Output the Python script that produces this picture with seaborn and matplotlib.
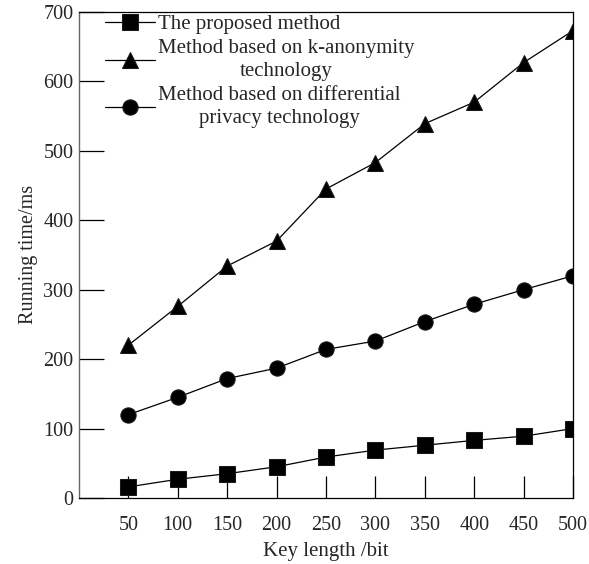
"""
Running time vs key length for three privacy-preserving methods
"""

import pandas as pd
import matplotlib
matplotlib.use('Agg')
import matplotlib.pyplot as plt
import seaborn as sns

# Data
key_length = [50, 100, 150, 200, 250, 300, 350, 400, 450, 500]
proposed = [16, 27, 35, 45, 59, 69, 76, 83, 89, 100]
k_anonymity = [220, 276, 334, 370, 445, 483, 539, 570, 627, 673]
differential = [120, 145, 172, 187, 214, 226, 254, 279, 300, 320]

method_names = [
    'The proposed method',
    'Method based on k-anonymity\ntechnology',
    'Method based on differential\nprivacy technology',
]
x_ticks = [50, 100, 150, 200, 250, 300, 350, 400, 450, 500]
y_ticks = [0, 100, 200, 300, 400, 500, 600, 700]

# Build a long-form table for seaborn
frames = []
for name, values in zip(method_names, [proposed, k_anonymity, differential]):
    frames.append(pd.DataFrame({'key': key_length, 'time': values, 'method': name}))
df = pd.concat(frames, ignore_index=True)

sns.set_style('ticks')
plt.rcParams['font.family'] = ['Liberation Serif', 'DejaVu Serif']

fig = plt.figure(figsize=(5.89, 5.64), dpi=100)
ax = fig.add_axes([0.134, 0.117, 0.839, 0.862])

markers = {method_names[0]: 's', method_names[1]: '^', method_names[2]: 'o'}
palette = {name: 'black' for name in method_names}

sns.lineplot(
    data=df, x='key', y='time', hue='method', style='method',
    markers=markers, dashes=False, palette=palette,
    markersize=11, linewidth=0.9, markeredgecolor='#1a1a1a',
    ax=ax, legend='full'
)

ax.set_xlim(0, 500)
ax.set_ylim(0, 700)
ax.set_xticks(x_ticks)
ax.set_yticks(y_ticks)

ax.tick_params(axis='x', direction='in', length=16, width=0.9, pad=13,
               labelsize=14.5, color='black')
ax.tick_params(axis='y', direction='in', length=18, width=0.9, pad=4,
               labelsize=14.5, color='black')

for side in ['top', 'right', 'bottom']:
    ax.spines[side].set_linewidth(0.9)
    ax.spines[side].set_color('black')
ax.spines['left'].set_linewidth(1.0)
ax.spines['left'].set_color('#666666')

ax.set_xlabel('Key length /bit', fontsize=15, labelpad=5)
ax.set_ylabel('Running time/ms', fontsize=14.5, labelpad=4)

handles, labels = ax.get_legend_handles_labels()
leg = ax.legend(
    handles, labels, loc='upper left', bbox_to_anchor=(0.052, 0.994),
    frameon=False, fontsize=15, handlelength=2.4, handletextpad=0.15,
    labelspacing=0.22, borderpad=0, borderaxespad=0
)
for text in leg.get_texts():
    text.set_multialignment('center')
    text.set_linespacing(1.3)

plt.savefig('out.png', dpi=100)
plt.close()
